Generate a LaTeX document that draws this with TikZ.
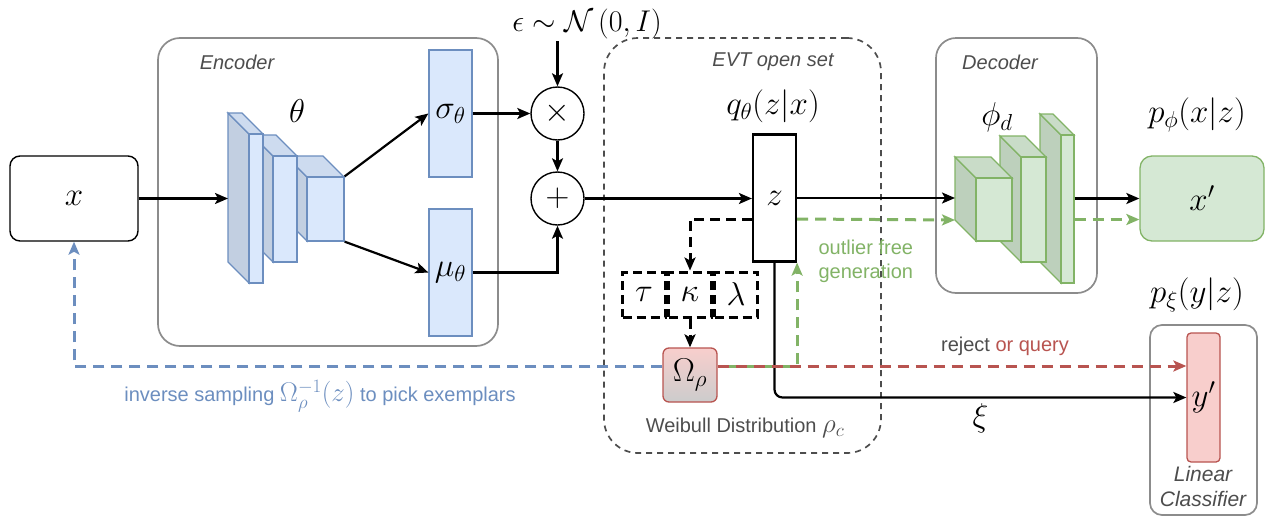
\RequirePackage{fix-cm}
\documentclass[tikz,border=0pt]{standalone}
\usepackage{fontspec}
\setsansfont{Liberation Sans}
\usepackage{xcolor}
\usetikzlibrary{calc,positioning,arrows.meta}
\definecolor{color_blue_front}{HTML}{dae8fc}
\definecolor{color_blue_top}{HTML}{cddbef}
\definecolor{color_blue_side}{HTML}{c2cfe1}
\definecolor{color_blue_line}{HTML}{6c8ebf}
\definecolor{color_green_front}{HTML}{d5e8d4}
\definecolor{color_green_top}{HTML}{c9dcc8}
\definecolor{color_green_side}{HTML}{bdd0bc}
\definecolor{color_green_line}{HTML}{82b366}
\definecolor{color_red_fill}{HTML}{f8cecc}
\definecolor{color_red_line}{HTML}{b85450}
\definecolor{color_group}{HTML}{8c8c8c}
\definecolor{color_text}{HTML}{4d4d4d}

% conv block: name, front face top left (x,y), bottom right (x,y), colour set
\newcommand{\convblock}[6]{%
	\filldraw[fill=#6_side,draw=#6_line,line width=1.3pt]
		($(#2,#3)+(-21,-21)$) -- (#2,#3) -- (#2,#5) -- ($(#2,#5)+(-21,-21)$) -- cycle;
	\filldraw[fill=#6_top,draw=#6_line,line width=1.3pt]
		($(#2,#3)+(-21,-21)$) -- ($(#4,#3)+(-21,-21)$) -- (#4,#3) -- (#2,#3) -- cycle;
	\node[draw=#6_line,fill=#6_front,line width=1.3pt,inner sep=0pt,
		minimum width={(#4-#2)*1pt},minimum height={(#5-#3)*1pt}]
		(#1) at ({(#2+#4)/2},{(#3+#5)/2}) {};
	\coordinate (#1in) at ({#2-21},{(#3+#5)/2-10.5});
}
\newcommand{\lblmath}[1]{{\fontsize{27}{28}\selectfont$#1$}}

\begin{document}
\begin{tikzpicture}[x=1pt,y=-1pt,
	mth/.style={font=\fontsize{33}{35}\selectfont},
	lbl/.style={font=\fontsize{20}{24}\selectfont\sffamily},
	grouplbl/.style={lbl,font=\fontsize{20}{24}\selectfont\sffamily\itshape,text=color_text},
	groupbox/.style={draw=color_group,line width=1.7pt,rounded corners=22pt,inner sep=0pt},
	vecbox/.style={mth,draw=color_blue_line,fill=color_blue_front,line width=1.3pt,inner sep=0pt,minimum width=43pt,minimum height=127pt},
	opnode/.style={mth,circle,draw,line width=1.4pt,inner sep=0pt,minimum size=53pt},
	parbox/.style={mth,draw,dashed,line width=3pt,dash pattern=on 9pt off 5pt,inner sep=0pt,minimum width=43pt,minimum height=45pt},
	arr/.style={line width=2.2pt,-{Stealth[length=13pt,width=11pt,inset=3pt]}},
	bkdash/.style={arr,line width=3pt,dash pattern=on 10pt off 6pt},
	gdash/.style={arr,color_green_line,line width=3pt,dash pattern=on 11pt off 7pt},
	rdash/.style={arr,color_red_line,line width=3pt,dash pattern=on 11pt off 7pt},
	bdash/.style={arr,color_blue_line,line width=3pt,dash pattern=on 11pt off 7pt}]
	\useasboundingbox (0,0) rectangle (1266,517);

	% Groups
	\node[groupbox,minimum width=340pt,minimum height=308pt] (encoder) at (328,192) {};
	\node[groupbox,dashed,draw=color_text,dash pattern=on 6pt off 5pt,rounded corners=34pt,
		minimum width=277pt,minimum height=415pt] (evt) at (742.5,245.5) {};
	\node[groupbox,rounded corners=20pt,minimum width=161pt,minimum height=255pt] (decoder) at (1016.5,165.5) {};
	\node[groupbox,rounded corners=12pt,minimum width=107pt,minimum height=190pt] (linear) at (1203.5,420) {};
	\node[grouplbl] at (237,62) {Encoder};
	\node[grouplbl] at (773,62) {EVT open set};
	\node[grouplbl] at (1000,62) {Decoder};
	\node[grouplbl,align=center,font=\fontsize{21}{25}\selectfont\sffamily\itshape] at (1203,486) {Linear\\Classifier};
	\node[lbl,text=color_text] at (745,428) {Weibull Distribution \lblmath{\rho_c}};

	% Input and encoder
	\node[mth,draw,line width=1.4pt,rounded corners=10pt,minimum width=128pt,minimum height=85pt] (x) at (74,198.5) {$x$};
	\convblock{enc3}{307}{177}{344}{241}{color_blue}
	\convblock{enc2}{273}{156}{297}{262}{color_blue}
	\convblock{enc1}{249}{134}{263}{283}{color_blue}
	\node[mth] (theta) at (297,111) {$\theta$};
	\node[vecbox] (sigma) at (450.5,113.5) {$\sigma_\theta$};
	\node[vecbox] (mu) at (450.5,272.5) {$\mu_\theta$};

	% Reparametrisation
	\node[mth,font=\fontsize{30}{32}\selectfont,inner sep=2pt] (eps) at (587,24) {$\epsilon \sim \mathcal{N}\left(0, I\right)$};
	\node[opnode] (mul) at (557.5,113.5) {$\times$};
	\node[opnode] (add) at (557.5,198.5) {$+$};

	% Latent and Weibull
	\node[mth,draw,line width=2.2pt,inner sep=0pt,minimum width=43pt,minimum height=127pt] (z) at (774.5,198) {$z$};
	\node[mth] (qlbl) at (773,106) {$q_\theta(z|x)$};
	\node[parbox] (kappa) at (690,294.5) {$\kappa$};
	\node[parbox,left=0pt of kappa] (tau) {$\tau$};
	\node[parbox,right=0pt of kappa] (lambda) {$\lambda$};
	\node[mth,draw=color_red_line,line width=1.3pt,rounded corners=6pt,inner sep=0pt,minimum size=54pt,
		top color=color_red_fill,bottom color=black!20] (omega) at (690,375) {$\Omega_\rho$};

	% Decoder and outputs
	\convblock{decC}{1061}{135}{1074}{283}{color_green}
	\convblock{decB}{1021}{157}{1046}{262}{color_green}
	\convblock{decA}{976}{178}{1012}{241}{color_green}
	\node[mth] (phi) at (997,117) {$\phi_d$};
	\node[mth,draw=color_green_line,fill=color_green_front,line width=1.3pt,rounded corners=12pt,
		minimum width=124pt,minimum height=85pt] (xp) at (1202,198.5) {$x'$};
	\node[mth] (pphi) at (1197,115) {$p_\phi(x|z)$};
	\node[mth,draw=color_red_line,fill=color_red_fill,line width=1.3pt,rounded corners=4pt,inner sep=0pt,
		minimum width=33pt,minimum height=129pt] (yp) at (1203.5,397.5) {$y'$};
	\node[mth] (pxi) at (1197,295) {$p_\xi(y|z)$};

	% Connectors
	\draw[arr] (x.east) -- (x.east -| enc1in);
	\draw[arr] (enc3.north east) -- (sigma.west);
	\draw[arr] (enc3.south east) -- (mu.west);
	\draw[arr] (sigma.east) -- (mul.west);
	\draw[arr] (eps.south -| mul) -- (mul.north);
	\draw[arr] (mul.south) -- (add.north);
	\draw[arr] (mu.east) -| (add.south);
	\draw[arr] (add.east) -- (add.east -| z.west);
	\draw[arr] (z.east) -- (z.east -| decAin);
	\draw[arr] (decC.east |- xp.west) -- (xp.west);
	\draw[arr,rounded corners=8pt] (z.south) |- (yp.west) node[pos=0.75,below=2pt,mth] (xi) {$\xi$};

	% Dashed paths
	\coordinate (omout) at ($(omega.east)+(0,-9)$);
	\coordinate (omin) at ($(omega.west)+(0,-9)$);
	\draw[bkdash] ($(z.west)+(0,21)$) -| (kappa.north);
	\draw[bkdash] (kappa.south) -- (omega.north);
	\draw[gdash] ($(z.east)+(0,21)$) -- ($(decAin)+(0,21)$);
	\draw[gdash] ($(decC.east |- xp.west)+(0,21)$) -- ($(xp.west)+(0,21)$);
	\draw[gdash,dash phase=9pt] (omout) -| (z.south east);
	\draw[rdash] (omout) -- (omout -| yp.west);
	\draw[bdash] (omin) -| (x.south);

	% Path labels
	\node[lbl,text=color_green_line,align=left,anchor=west] (gen) at (815,261) {outlier free\\generation};
	\node[lbl] (reject) at (1005,346) {\textcolor{color_text}{reject} \textcolor{color_red_line}{or query}};
	\node[lbl,text=color_blue_line] (inv) at (320,396) {inverse sampling \lblmath{\Omega_\rho^{-1}(z)} to pick exemplars};
\end{tikzpicture}
\end{document}
